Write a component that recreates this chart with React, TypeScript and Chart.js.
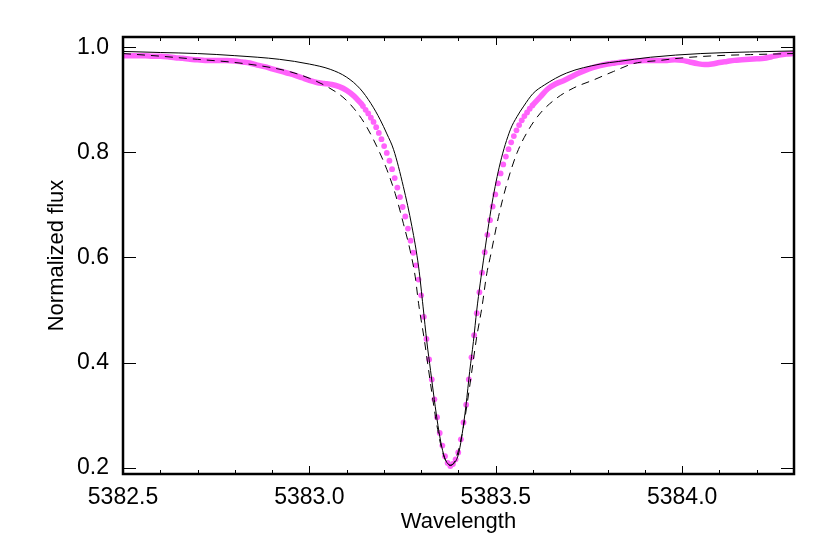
import React, { useEffect, useRef } from "react";
import { Chart, registerables } from "chart.js";

Chart.register(...registerables);

// Axis ranges / ticks
const X_MIN = 5382.5;
const X_MAX = 5384.3;
const X_STEP = 0.1;
const Y_MIN = 0.188;
const Y_MAX = 1.0195;
const Y_STEP = 0.2;

// Model 1 (solid line)
const solidWave = [
  5382.5, 5382.6, 5382.7, 5382.8, 5382.92, 5383.0, 5383.056, 5383.1, 5383.136, 5383.165,
  5383.19, 5383.208, 5383.226, 5383.252, 5383.275, 5383.293, 5383.305, 5383.315, 5383.325,
  5383.335, 5383.345, 5383.355, 5383.365, 5383.378, 5383.39, 5383.4, 5383.41, 5383.42,
  5383.43, 5383.44, 5383.449, 5383.467, 5383.49, 5383.512, 5383.539, 5383.557, 5383.575,
  5383.6, 5383.63, 5383.69, 5383.78, 5383.83, 5383.915, 5384.05, 5384.18, 5384.3,
];
const solidFlux = [
  0.992, 0.99, 0.988, 0.984, 0.977, 0.968, 0.958, 0.943, 0.921, 0.893,
  0.862, 0.835, 0.805, 0.735, 0.659, 0.582, 0.506, 0.44, 0.385,
  0.33, 0.28, 0.24, 0.215, 0.205, 0.21, 0.226, 0.265, 0.318,
  0.383, 0.44, 0.5, 0.595, 0.703, 0.78, 0.843, 0.868, 0.888,
  0.912, 0.928, 0.951, 0.968, 0.973, 0.981, 0.988, 0.991, 0.993,
];

// Model 2 (dashed line)
const dashedWave = [
  5382.5, 5382.6, 5382.7, 5382.8, 5382.9, 5382.95, 5383.0, 5383.05, 5383.09, 5383.12,
  5383.15, 5383.185, 5383.208, 5383.23, 5383.252, 5383.27, 5383.284, 5383.293, 5383.308,
  5383.318, 5383.328, 5383.338, 5383.348, 5383.358, 5383.368, 5383.378, 5383.388, 5383.398,
  5383.408, 5383.418, 5383.428, 5383.438, 5383.448, 5383.463, 5383.476, 5383.485, 5383.5075,
  5383.53, 5383.557, 5383.588, 5383.62, 5383.664, 5383.709, 5383.763, 5383.816, 5383.87,
  5383.941, 5384.004, 5384.094, 5384.183, 5384.3,
];
const dashedFlux = [
  0.988, 0.983, 0.977, 0.971, 0.961, 0.953, 0.941, 0.924, 0.905, 0.883,
  0.853, 0.805, 0.767, 0.722, 0.665, 0.614, 0.563, 0.512, 0.445,
  0.395, 0.345, 0.298, 0.258, 0.228, 0.21, 0.204, 0.21, 0.228,
  0.258, 0.298, 0.345, 0.395, 0.445, 0.506, 0.57, 0.6, 0.678,
  0.741, 0.799, 0.843, 0.875, 0.9035, 0.9226, 0.938, 0.954, 0.969,
  0.975, 0.98, 0.984, 0.986, 0.988,
];

// Observed spectrum: blue wing
const obsLeftWave = [
  5382.5, 5382.52, 5382.54, 5382.56, 5382.58, 5382.6, 5382.62, 5382.64, 5382.66, 5382.68,
  5382.7, 5382.72, 5382.74, 5382.76, 5382.78, 5382.8, 5382.82, 5382.84, 5382.86, 5382.88,
  5382.9, 5382.92, 5382.94, 5382.96, 5382.98, 5383.0, 5383.02, 5383.04, 5383.06, 5383.08,
  5383.1, 5383.12, 5383.14,
];
const obsLeftFlux = [
  0.984, 0.984, 0.984, 0.984, 0.983, 0.983, 0.982, 0.98, 0.979, 0.977,
  0.976, 0.975, 0.975, 0.975, 0.975, 0.974, 0.972, 0.97, 0.966, 0.963,
  0.959, 0.955, 0.951, 0.947, 0.942, 0.937, 0.933, 0.931, 0.929, 0.925,
  0.918, 0.907, 0.892,
];

// Observed spectrum: line core (individual pixels)
const obsCoreWave = [
  5383.1437, 5383.1508, 5383.1579, 5383.165, 5383.1721, 5383.1792, 5383.1863, 5383.1934,
  5383.2005, 5383.2076, 5383.2147, 5383.2218, 5383.2289, 5383.236, 5383.2431, 5383.2502,
  5383.2573, 5383.2644, 5383.2715, 5383.2786, 5383.2857, 5383.2928, 5383.2999, 5383.307,
  5383.3141, 5383.3212, 5383.3283, 5383.3354, 5383.3425, 5383.3496, 5383.3567, 5383.3638,
  5383.3709, 5383.378, 5383.3851, 5383.3922, 5383.3993, 5383.4064, 5383.4135, 5383.4206,
  5383.4277, 5383.4348, 5383.4419, 5383.449, 5383.4561, 5383.4632, 5383.4703, 5383.4774,
  5383.4845, 5383.4916, 5383.4987, 5383.5058, 5383.5129, 5383.52, 5383.5271, 5383.5342,
  5383.5413, 5383.5484, 5383.5555, 5383.5626, 5383.5697, 5383.5768, 5383.5839, 5383.591,
  5383.5981,
];
const obsCoreFlux = [
  0.888, 0.881, 0.874, 0.866, 0.858, 0.848, 0.837, 0.825,
  0.812, 0.799, 0.784, 0.768, 0.751, 0.733, 0.715, 0.696,
  0.678, 0.655, 0.632, 0.609, 0.585, 0.558, 0.528, 0.487,
  0.445, 0.406, 0.368, 0.33, 0.296, 0.266, 0.242, 0.222,
  0.209, 0.203, 0.207, 0.216, 0.229, 0.254, 0.286, 0.32,
  0.368, 0.41, 0.452, 0.494, 0.534, 0.571, 0.61, 0.643,
  0.671, 0.697, 0.72, 0.741, 0.76, 0.777, 0.792, 0.806,
  0.819, 0.831, 0.842, 0.852, 0.861, 0.869, 0.876, 0.883,
  0.889,
];

// Observed spectrum: red wing
const obsRightWave = [
  5383.6, 5383.62, 5383.64, 5383.66, 5383.68, 5383.7, 5383.72, 5383.74, 5383.76, 5383.78,
  5383.8, 5383.82, 5383.84, 5383.86, 5383.88, 5383.9, 5383.92, 5383.94, 5383.96, 5383.98,
  5384.0, 5384.02, 5384.04, 5384.06, 5384.08, 5384.1, 5384.12, 5384.14, 5384.16, 5384.18,
  5384.2, 5384.22, 5384.24, 5384.26, 5384.28, 5384.3,
];
const obsRightFlux = [
  0.891, 0.906, 0.921, 0.93, 0.936, 0.943, 0.95, 0.956, 0.961, 0.965,
  0.968, 0.97, 0.972, 0.973, 0.974, 0.975, 0.975, 0.975, 0.975, 0.976,
  0.975, 0.972, 0.969, 0.967, 0.968, 0.971, 0.973, 0.975, 0.976, 0.977,
  0.978, 0.979, 0.982, 0.985, 0.987, 0.988,
];

const X_TITLE = "Wavelength";
const Y_TITLE = "Normalized flux";

const PINK = "#ff62fb";
const FONT = "'Liberation Sans', Arial, Helvetica, sans-serif";

const toXY = (xs: number[], ys: number[]) => xs.map((x, i) => ({ x, y: ys[i] }));
const isMajorX = (v: number) => Math.abs(v * 2 - Math.round(v * 2)) < 1e-6;

const framePlugin = {
  id: "frameTicks",
  afterDraw(chart: any) {
    const { ctx, chartArea: a, scales } = chart;
    const xs = scales.x;
    const ys = scales.y;
    ctx.save();
    ctx.strokeStyle = "#000";
    ctx.lineWidth = 1;
    xs.ticks.forEach((t: any) => {
      const px = Math.round(xs.getPixelForValue(t.value)) + 0.5;
      const len = isMajorX(t.value) ? 8 : 4;
      ctx.beginPath();
      ctx.moveTo(px, a.bottom);
      ctx.lineTo(px, a.bottom - len);
      ctx.moveTo(px, a.top);
      ctx.lineTo(px, a.top + len);
      ctx.stroke();
    });
    ys.ticks.forEach((t: any) => {
      const py = Math.round(ys.getPixelForValue(t.value)) + 0.5;
      ctx.beginPath();
      ctx.moveTo(a.left, py);
      ctx.lineTo(a.left + 13, py);
      ctx.moveTo(a.right, py);
      ctx.lineTo(a.right - 13, py);
      ctx.stroke();
    });
    ctx.lineWidth = 2.5;
    ctx.strokeRect(a.left, a.top, a.right - a.left, a.bottom - a.top);
    ctx.restore();
  },
};

export default function App() {
  const ref = useRef<HTMLCanvasElement | null>(null);

  useEffect(() => {
    document.body.style.margin = "0";
    const canvas = ref.current;
    if (!canvas) return;
    const chart = new Chart(canvas, {
      type: "scatter",
      data: {
        datasets: [
          {
            label: "model 1",
            data: toXY(solidWave, solidFlux),
            showLine: true,
            borderColor: "#000",
            borderWidth: 1,
            pointRadius: 0,
            cubicInterpolationMode: "monotone",
            order: 0,
          },
          {
            label: "model 2",
            data: toXY(dashedWave, dashedFlux),
            showLine: true,
            borderColor: "#000",
            borderWidth: 1,
            borderDash: [8, 6],
            pointRadius: 0,
            cubicInterpolationMode: "monotone",
            order: 1,
          },
          {
            label: "observed (blue wing)",
            data: toXY(obsLeftWave, obsLeftFlux),
            showLine: true,
            borderColor: PINK,
            borderWidth: 5.5,
            borderCapStyle: "round",
            borderJoinStyle: "round",
            pointRadius: 0,
            cubicInterpolationMode: "monotone",
            order: 2,
          },
          {
            label: "observed (core)",
            data: toXY(obsCoreWave, obsCoreFlux),
            showLine: false,
            pointRadius: 2.9,
            pointBackgroundColor: PINK,
            pointBorderWidth: 0,
            order: 2,
          },
          {
            label: "observed (red wing)",
            data: toXY(obsRightWave, obsRightFlux),
            showLine: true,
            borderColor: PINK,
            borderWidth: 5.5,
            borderCapStyle: "round",
            borderJoinStyle: "round",
            pointRadius: 0,
            cubicInterpolationMode: "monotone",
            order: 2,
          },
        ],
      } as any,
      options: {
        animation: false,
        responsive: false,
        devicePixelRatio: 1,
        layout: { padding: { top: 37, right: 36, left: 0, bottom: 0 } },
        plugins: { legend: { display: false }, tooltip: { enabled: false } },
        scales: {
          x: {
            type: "linear",
            min: X_MIN,
            max: X_MAX,
            grid: { display: false },
            border: { display: false },
            ticks: {
              stepSize: X_STEP,
              includeBounds: false,
              autoSkip: false,
              maxRotation: 0,
              padding: 2,
              color: "#000",
              font: { family: FONT, size: 23 },
              callback: (v: any) => (isMajorX(Number(v)) ? Number(v).toFixed(1) : ""),
            },
            title: {
              display: true,
              text: X_TITLE,
              color: "#000",
              font: { family: FONT, size: 22 },
              padding: { top: 0, bottom: 18 },
            },
            afterFit: (s: any) => {
              s.height = 79;
            },
          },
          y: {
            type: "linear",
            min: Y_MIN,
            max: Y_MAX,
            grid: { display: false },
            border: { display: false },
            ticks: {
              stepSize: Y_STEP,
              includeBounds: false,
              padding: 6,
              color: "#000",
              font: { family: FONT, size: 23 },
              callback: (v: any) => Number(v).toFixed(1),
            },
            title: {
              display: true,
              text: Y_TITLE,
              color: "#000",
              font: { family: FONT, size: 22 },
              padding: { top: 44, bottom: 0 },
            },
            afterFit: (s: any) => {
              s.width = 123;
            },
          },
        },
      } as any,
      plugins: [framePlugin],
    });
    return () => chart.destroy();
  }, []);

  return (
    <div style={{ width: 830, height: 553 }}>
      <canvas ref={ref} width={830} height={553} style={{ display: "block" }} />
    </div>
  );
}
